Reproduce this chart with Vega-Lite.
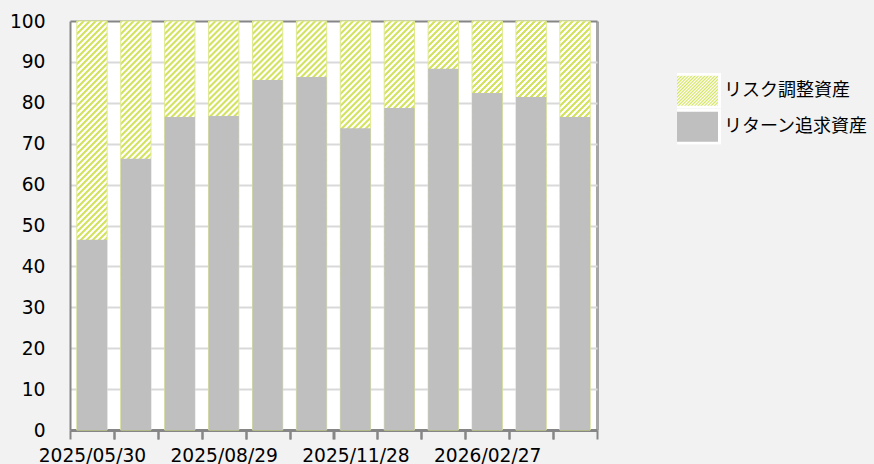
{
  "$schema": "https://vega.github.io/schema/vega-lite/v6.json",
  "width": 527,
  "height": 409,
  "autosize": {"type": "none"},
  "padding": {"left": 70, "top": 21, "right": 277, "bottom": 34},
  "background": "#f2f2f2",
  "config": {"view": {"stroke": null, "fill": "#ffffff"}},
  "data": {
    "values": [
      {"date": "2025/05/30", "type": "リターン追求資産", "value": 46.5},
      {"date": "2025/06/30", "type": "リターン追求資産", "value": 66.3},
      {"date": "2025/07/31", "type": "リターン追求資産", "value": 76.5},
      {"date": "2025/08/29", "type": "リターン追求資産", "value": 76.8},
      {"date": "2025/09/30", "type": "リターン追求資産", "value": 85.6},
      {"date": "2025/10/31", "type": "リターン追求資産", "value": 86.3},
      {"date": "2025/11/28", "type": "リターン追求資産", "value": 73.8},
      {"date": "2025/12/30", "type": "リターン追求資産", "value": 78.7},
      {"date": "2026/01/30", "type": "リターン追求資産", "value": 88.3},
      {"date": "2026/02/27", "type": "リターン追求資産", "value": 82.4},
      {"date": "2026/03/31", "type": "リターン追求資産", "value": 81.4},
      {"date": "2026/04/30", "type": "リターン追求資産", "value": 76.5},
      {"date": "2025/05/30", "type": "リスク調整資産", "value": 53.5},
      {"date": "2025/06/30", "type": "リスク調整資産", "value": 33.7},
      {"date": "2025/07/31", "type": "リスク調整資産", "value": 23.5},
      {"date": "2025/08/29", "type": "リスク調整資産", "value": 23.2},
      {"date": "2025/09/30", "type": "リスク調整資産", "value": 14.4},
      {"date": "2025/10/31", "type": "リスク調整資産", "value": 13.7},
      {"date": "2025/11/28", "type": "リスク調整資産", "value": 26.2},
      {"date": "2025/12/30", "type": "リスク調整資産", "value": 21.3},
      {"date": "2026/01/30", "type": "リスク調整資産", "value": 11.7},
      {"date": "2026/02/27", "type": "リスク調整資産", "value": 17.6},
      {"date": "2026/03/31", "type": "リスク調整資産", "value": 18.6},
      {"date": "2026/04/30", "type": "リスク調整資産", "value": 23.5}
    ]
  },
  "layer": [
    {
      "mark": {
        "type": "bar",
        "stroke": "#dfe98f",
        "strokeWidth": 1,
        "fill": {
          "gradient": "linear", "x1": 0, "y1": 0, "x2": 0.04611, "y2": 0.6225,
          "stops": [
            {"offset":0,"color":"#d4e35f"},{"offset":0.0078125,"color":"#d4e35f"},{"offset":0.01171875,"color":"#fff"},{"offset":0.01953125,"color":"#fff"},
            {"offset":0.0234375,"color":"#d4e35f"},{"offset":0.03125,"color":"#d4e35f"},{"offset":0.03515625,"color":"#fff"},{"offset":0.04296875,"color":"#fff"},
            {"offset":0.046875,"color":"#d4e35f"},{"offset":0.0546875,"color":"#d4e35f"},{"offset":0.05859375,"color":"#fff"},{"offset":0.06640625,"color":"#fff"},
            {"offset":0.0703125,"color":"#d4e35f"},{"offset":0.078125,"color":"#d4e35f"},{"offset":0.08203125,"color":"#fff"},{"offset":0.08984375,"color":"#fff"},
            {"offset":0.09375,"color":"#d4e35f"},{"offset":0.1015625,"color":"#d4e35f"},{"offset":0.10546875,"color":"#fff"},{"offset":0.11328125,"color":"#fff"},
            {"offset":0.1171875,"color":"#d4e35f"},{"offset":0.125,"color":"#d4e35f"},{"offset":0.12890625,"color":"#fff"},{"offset":0.13671875,"color":"#fff"},
            {"offset":0.140625,"color":"#d4e35f"},{"offset":0.1484375,"color":"#d4e35f"},{"offset":0.15234375,"color":"#fff"},{"offset":0.16015625,"color":"#fff"},
            {"offset":0.1640625,"color":"#d4e35f"},{"offset":0.171875,"color":"#d4e35f"},{"offset":0.17578125,"color":"#fff"},{"offset":0.18359375,"color":"#fff"},
            {"offset":0.1875,"color":"#d4e35f"},{"offset":0.1953125,"color":"#d4e35f"},{"offset":0.19921875,"color":"#fff"},{"offset":0.20703125,"color":"#fff"},
            {"offset":0.2109375,"color":"#d4e35f"},{"offset":0.21875,"color":"#d4e35f"},{"offset":0.22265625,"color":"#fff"},{"offset":0.23046875,"color":"#fff"},
            {"offset":0.234375,"color":"#d4e35f"},{"offset":0.2421875,"color":"#d4e35f"},{"offset":0.24609375,"color":"#fff"},{"offset":0.25390625,"color":"#fff"},
            {"offset":0.2578125,"color":"#d4e35f"},{"offset":0.265625,"color":"#d4e35f"},{"offset":0.26953125,"color":"#fff"},{"offset":0.27734375,"color":"#fff"},
            {"offset":0.28125,"color":"#d4e35f"},{"offset":0.2890625,"color":"#d4e35f"},{"offset":0.29296875,"color":"#fff"},{"offset":0.30078125,"color":"#fff"},
            {"offset":0.3046875,"color":"#d4e35f"},{"offset":0.3125,"color":"#d4e35f"},{"offset":0.31640625,"color":"#fff"},{"offset":0.32421875,"color":"#fff"},
            {"offset":0.328125,"color":"#d4e35f"},{"offset":0.3359375,"color":"#d4e35f"},{"offset":0.33984375,"color":"#fff"},{"offset":0.34765625,"color":"#fff"},
            {"offset":0.3515625,"color":"#d4e35f"},{"offset":0.359375,"color":"#d4e35f"},{"offset":0.36328125,"color":"#fff"},{"offset":0.37109375,"color":"#fff"},
            {"offset":0.375,"color":"#d4e35f"},{"offset":0.3828125,"color":"#d4e35f"},{"offset":0.38671875,"color":"#fff"},{"offset":0.39453125,"color":"#fff"},
            {"offset":0.3984375,"color":"#d4e35f"},{"offset":0.40625,"color":"#d4e35f"},{"offset":0.41015625,"color":"#fff"},{"offset":0.41796875,"color":"#fff"},
            {"offset":0.421875,"color":"#d4e35f"},{"offset":0.4296875,"color":"#d4e35f"},{"offset":0.43359375,"color":"#fff"},{"offset":0.44140625,"color":"#fff"},
            {"offset":0.4453125,"color":"#d4e35f"},{"offset":0.453125,"color":"#d4e35f"},{"offset":0.45703125,"color":"#fff"},{"offset":0.46484375,"color":"#fff"},
            {"offset":0.46875,"color":"#d4e35f"},{"offset":0.4765625,"color":"#d4e35f"},{"offset":0.48046875,"color":"#fff"},{"offset":0.48828125,"color":"#fff"},
            {"offset":0.4921875,"color":"#d4e35f"},{"offset":0.5,"color":"#d4e35f"},{"offset":0.50390625,"color":"#fff"},{"offset":0.51171875,"color":"#fff"},
            {"offset":0.515625,"color":"#d4e35f"},{"offset":0.5234375,"color":"#d4e35f"},{"offset":0.52734375,"color":"#fff"},{"offset":0.53515625,"color":"#fff"},
            {"offset":0.5390625,"color":"#d4e35f"},{"offset":0.546875,"color":"#d4e35f"},{"offset":0.55078125,"color":"#fff"},{"offset":0.55859375,"color":"#fff"},
            {"offset":0.5625,"color":"#d4e35f"},{"offset":0.5703125,"color":"#d4e35f"},{"offset":0.57421875,"color":"#fff"},{"offset":0.58203125,"color":"#fff"},
            {"offset":0.5859375,"color":"#d4e35f"},{"offset":0.59375,"color":"#d4e35f"},{"offset":0.59765625,"color":"#fff"},{"offset":0.60546875,"color":"#fff"},
            {"offset":0.609375,"color":"#d4e35f"},{"offset":0.6171875,"color":"#d4e35f"},{"offset":0.62109375,"color":"#fff"},{"offset":0.62890625,"color":"#fff"},
            {"offset":0.6328125,"color":"#d4e35f"},{"offset":0.640625,"color":"#d4e35f"},{"offset":0.64453125,"color":"#fff"},{"offset":0.65234375,"color":"#fff"},
            {"offset":0.65625,"color":"#d4e35f"},{"offset":0.6640625,"color":"#d4e35f"},{"offset":0.66796875,"color":"#fff"},{"offset":0.67578125,"color":"#fff"},
            {"offset":0.6796875,"color":"#d4e35f"},{"offset":0.6875,"color":"#d4e35f"},{"offset":0.69140625,"color":"#fff"},{"offset":0.69921875,"color":"#fff"},
            {"offset":0.703125,"color":"#d4e35f"},{"offset":0.7109375,"color":"#d4e35f"},{"offset":0.71484375,"color":"#fff"},{"offset":0.72265625,"color":"#fff"},
            {"offset":0.7265625,"color":"#d4e35f"},{"offset":0.734375,"color":"#d4e35f"},{"offset":0.73828125,"color":"#fff"},{"offset":0.74609375,"color":"#fff"},
            {"offset":0.75,"color":"#d4e35f"},{"offset":0.7578125,"color":"#d4e35f"},{"offset":0.76171875,"color":"#fff"},{"offset":0.76953125,"color":"#fff"},
            {"offset":0.7734375,"color":"#d4e35f"},{"offset":0.78125,"color":"#d4e35f"},{"offset":0.78515625,"color":"#fff"},{"offset":0.79296875,"color":"#fff"},
            {"offset":0.796875,"color":"#d4e35f"},{"offset":0.8046875,"color":"#d4e35f"},{"offset":0.80859375,"color":"#fff"},{"offset":0.81640625,"color":"#fff"},
            {"offset":0.8203125,"color":"#d4e35f"},{"offset":0.828125,"color":"#d4e35f"},{"offset":0.83203125,"color":"#fff"},{"offset":0.83984375,"color":"#fff"},
            {"offset":0.84375,"color":"#d4e35f"},{"offset":0.8515625,"color":"#d4e35f"},{"offset":0.85546875,"color":"#fff"},{"offset":0.86328125,"color":"#fff"},
            {"offset":0.8671875,"color":"#d4e35f"},{"offset":0.875,"color":"#d4e35f"},{"offset":0.87890625,"color":"#fff"},{"offset":0.88671875,"color":"#fff"},
            {"offset":0.890625,"color":"#d4e35f"},{"offset":0.8984375,"color":"#d4e35f"},{"offset":0.90234375,"color":"#fff"},{"offset":0.91015625,"color":"#fff"},
            {"offset":0.9140625,"color":"#d4e35f"},{"offset":0.921875,"color":"#d4e35f"},{"offset":0.92578125,"color":"#fff"},{"offset":0.93359375,"color":"#fff"},
            {"offset":0.9375,"color":"#d4e35f"},{"offset":0.9453125,"color":"#d4e35f"},{"offset":0.94921875,"color":"#fff"},{"offset":0.95703125,"color":"#fff"},
            {"offset":0.9609375,"color":"#d4e35f"},{"offset":0.96875,"color":"#d4e35f"},{"offset":0.97265625,"color":"#fff"},{"offset":0.98046875,"color":"#fff"},
            {"offset":0.984375,"color":"#d4e35f"},{"offset":0.9921875,"color":"#d4e35f"},{"offset":0.99609375,"color":"#fff"},{"offset":1,"color":"#fff"}
          ]
        }
      },
      "encoding": {
        "x": {
          "field": "date", "type": "nominal",
          "scale": {"paddingInner": 0.31, "paddingOuter": 0.155},
          "axis": {
            "orient": "bottom", "title": null, "bandPosition": 0, "tickOffset": -6.81, "labelOffset": 6.81,
            "labelExpr": "indexof(['2025/05/30','2025/08/29','2025/11/28','2026/02/27'], datum.value) >= 0 ? datum.value : ''",
            "labelAngle": 0, "labelFont": "DejaVu Sans", "labelFontSize": 18.67, "labelColor": "#000000",
            "labelPadding": 7, "labelOverlap": false,
            "domainColor": "#868686", "domainWidth": 3,
            "tickColor": "#868686", "tickWidth": 2, "tickSize": 9, "grid": false
          }
        },
        "y": {
          "aggregate": "sum", "field": "value", "type": "quantitative",
          "scale": {"domain": [0, 100], "nice": false, "zero": true},
          "axis": {
            "title": null, "values": [0, 10, 20, 30, 40, 50, 60, 70, 80, 90, 100],
            "grid": true,
            "gridColor": {"condition": {"test": "datum.value === 100", "value": "#868686"}, "value": "#d9d9d9"},
            "gridWidth": 2,
            "domainColor": "#868686", "domainWidth": 2,
            "ticks": false, "tickSize": 0, "labelPadding": 25,
            "labelFont": "DejaVu Sans", "labelFontSize": 18.67, "labelColor": "#000000"
          }
        }
      }
    },
    {
      "transform": [{"filter": "datum.type === 'リターン追求資産'"}],
      "mark": {"type": "bar"},
      "encoding": {
        "x": {
          "field": "date", "type": "nominal",
          "scale": {"paddingInner": 0.31, "paddingOuter": 0.155},
          "axis": {
            "orient": "bottom", "title": null, "labels": false, "domain": false,
            "ticks": true, "bandPosition": 1, "tickOffset": 6.81, "tickSize": 9, "tickWidth": 2, "tickColor": "#868686",
            "grid": true,
            "gridColor": {"condition": {"test": "datum.value === '2026/04/30'", "value": "#a6a6a6"}, "value": "transparent"},
            "gridWidth": 3
          }
        },
        "y": {"field": "value", "type": "quantitative"},
        "fill": {
          "field": "type", "type": "nominal",
          "scale": {
            "domain": ["リスク調整資産", "リターン追求資産"],
            "range": [
              {"expr": "{gradient: 'linear', x1: 0, y1: 0, x2: 1.1513, y2: 0.7754, stops: [{offset: 0, color: '#d4e35f'}, {offset: 0.02, color: '#fff'}, {offset: 0.04, color: '#d4e35f'}, {offset: 0.06, color: '#fff'}, {offset: 0.08, color: '#d4e35f'}, {offset: 0.10, color: '#fff'}, {offset: 0.12, color: '#d4e35f'}, {offset: 0.14, color: '#fff'}, {offset: 0.16, color: '#d4e35f'}, {offset: 0.18, color: '#fff'}, {offset: 0.20, color: '#d4e35f'}, {offset: 0.22, color: '#fff'}, {offset: 0.24, color: '#d4e35f'}, {offset: 0.26, color: '#fff'}, {offset: 0.28, color: '#d4e35f'}, {offset: 0.30, color: '#fff'}, {offset: 0.32, color: '#d4e35f'}, {offset: 0.34, color: '#fff'}, {offset: 0.36, color: '#d4e35f'}, {offset: 0.38, color: '#fff'}, {offset: 0.40, color: '#d4e35f'}, {offset: 0.42, color: '#fff'}, {offset: 0.44, color: '#d4e35f'}, {offset: 0.46, color: '#fff'}, {offset: 0.48, color: '#d4e35f'}, {offset: 0.50, color: '#fff'}, {offset: 0.52, color: '#d4e35f'}, {offset: 0.54, color: '#fff'}, {offset: 0.56, color: '#d4e35f'}, {offset: 0.58, color: '#fff'}, {offset: 0.60, color: '#d4e35f'}, {offset: 0.62, color: '#fff'}, {offset: 0.64, color: '#d4e35f'}, {offset: 0.66, color: '#fff'}, {offset: 0.68, color: '#d4e35f'}, {offset: 0.70, color: '#fff'}, {offset: 0.72, color: '#d4e35f'}, {offset: 0.74, color: '#fff'}, {offset: 0.76, color: '#d4e35f'}, {offset: 0.78, color: '#fff'}, {offset: 0.80, color: '#d4e35f'}, {offset: 0.82, color: '#fff'}, {offset: 0.84, color: '#d4e35f'}, {offset: 0.86, color: '#fff'}, {offset: 0.88, color: '#d4e35f'}, {offset: 0.90, color: '#fff'}, {offset: 0.92, color: '#d4e35f'}, {offset: 0.94, color: '#fff'}, {offset: 0.96, color: '#d4e35f'}, {offset: 0.98, color: '#fff'}, {offset: 1, color: '#d4e35f'}]}"},
              "#bfbfbf"
            ]
          },
          "legend": {
            "title": null, "orient": "none", "legendX": 607, "legendY": 52, "padding": 0,
            "symbolType": "M-1.485,-1H1.485V1H-1.485Z", "symbolSize": 1089,
            "symbolStrokeColor": "#ffffff", "symbolStrokeWidth": 3,
            "labelFont": "Noto Sans CJK JP", "labelFontSize": 18, "labelColor": "#000000",
            "labelOffset": 11, "rowPadding": 0, "clipHeight": 35.5
          }
        }
      }
    }
  ],
  "resolve": {"axis": {"x": "independent"}}
}
